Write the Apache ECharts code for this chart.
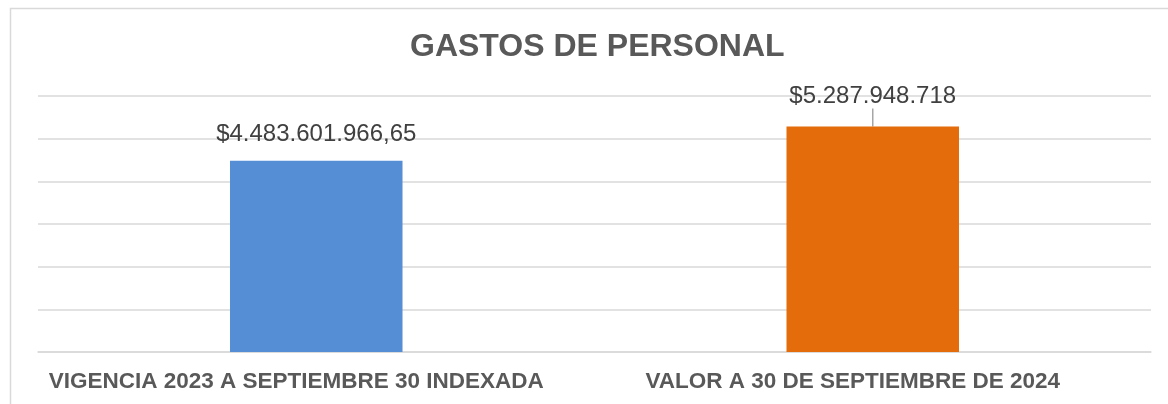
<!DOCTYPE html>
<html>
<head>
<meta charset="utf-8">
<script src="https://cdn.jsdelivr.net/npm/echarts@6/dist/echarts.min.js"></script>
<style>
  html, body { margin: 0; padding: 0; background: #fff; }
  #chart { width: 1168px; height: 404px; }
</style>
</head>
<body>
<div id="chart"></div>
<script>
// categorías y valores
const categories = ['VIGENCIA 2023 A SEPTIEMBRE 30 INDEXADA', 'VALOR A 30 DE SEPTIEMBRE DE 2024'];
const values = [4483601966.65, 5287948718];
const valueLabels = ['$4.483.601.966,65', '$5.287.948.718'];
const barColors = ['#558ED5', '#E46C0A'];

const chart = echarts.init(document.getElementById('chart'));

const option = {
  animation: false,
  title: {
    text: 'GASTOS DE PERSONAL',
    left: 405,
    top: 26,
    textStyle: {
      fontFamily: 'Liberation Sans',
      fontWeight: 'bold',
      fontSize: 32,
      color: '#595959',
    },
  },
  graphic: [
    {
      type: 'rect',
      left: 8,
      top: 6,
      shape: { width: 1300, height: 500 },
      style: { fill: 'none', stroke: '#d9d9d9', lineWidth: 1.5 },
      silent: true,
    },
  ],
  grid: { left: 38, right: 17, top: 96, bottom: 52 },
  xAxis: {
    type: 'category',
    data: categories,
    axisTick: { show: false },
    axisLine: { lineStyle: { color: '#d9d9d9', width: 1.5 } },
    axisLabel: {
      interval: 0,
      margin: 18,
      padding: [0, 40, 0, 0],
      fontFamily: 'Liberation Sans',
      fontWeight: 'bold',
      fontSize: 22.5,
      color: '#595959',
    },
  },
  yAxis: {
    type: 'value',
    min: 0,
    max: 6000000000,
    interval: 1000000000,
    axisLabel: { show: false },
    axisLine: { show: false },
    axisTick: { show: false },
    splitLine: { lineStyle: { color: '#d9d9d9', width: 1.5 } },
  },
  series: [
    {
      type: 'bar',
      barWidth: '31%',
      data: values.map((v, i) => ({
        value: v,
        itemStyle: { color: barColors[i] },
        labelLine: i === 1 ? { show: true, lineStyle: { color: '#a6a6a6', width: 1.5 } } : { show: false },
      })),
      label: {
        show: true,
        position: 'top',
        distance: 14,
        fontFamily: 'Liberation Sans',
        fontSize: 24,
        color: '#404040',
        formatter: (p) => valueLabels[p.dataIndex],
      },
      labelLayout: (params) => (params.dataIndex === 1 ? { dy: -4 } : {}),
    },
  ],
};

chart.setOption(option);
</script>
</body>
</html>
